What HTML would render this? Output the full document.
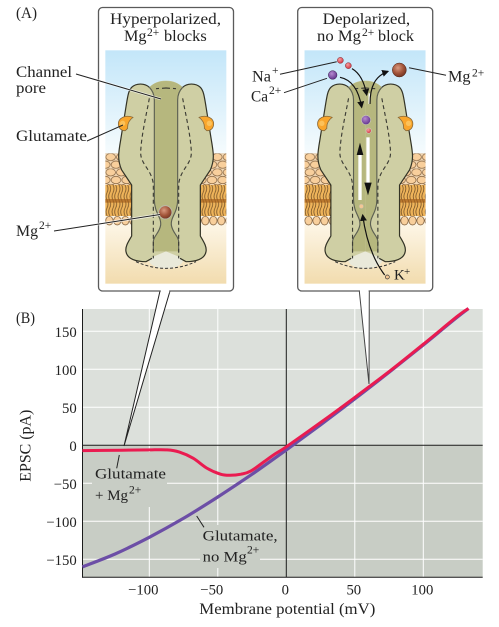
<!DOCTYPE html>
<html lang="en">
<head>
<meta charset="utf-8">
<title>NMDA receptor Mg2+ block</title>
<style>
html,body{margin:0;padding:0;background:#fff;width:499px;height:627px;overflow:hidden}
svg{display:block}
text{font-family:"Liberation Serif",serif;fill:#222}
</style>
</head>
<body>
<svg id="figure" xmlns="http://www.w3.org/2000/svg" width="499" height="627" viewBox="0 0 499 627">
<defs>
  <linearGradient id="panelBg" x1="0" y1="0" x2="0" y2="1">
    <stop offset="0" stop-color="#c3e6f9"/>
    <stop offset="0.44" stop-color="#f5fbfd"/>
    <stop offset="0.76" stop-color="#fcf4e3"/>
    <stop offset="1" stop-color="#f2dcae"/>
  </linearGradient>
  <pattern id="heads" patternUnits="userSpaceOnUse" width="32" height="46" x="46" y="460">
    <rect width="32" height="46" fill="#f3d9b6"/>
    <ellipse cx="16" cy="11" rx="14.5" ry="11" fill="#f8cf9c" stroke="#7b5a38" stroke-width="2"/>
    <ellipse cx="0" cy="34" rx="14.5" ry="11" fill="#f8cf9c" stroke="#7b5a38" stroke-width="2"/>
    <ellipse cx="32" cy="34" rx="14.5" ry="11" fill="#f8cf9c" stroke="#7b5a38" stroke-width="2"/>
  </pattern>
  <pattern id="headsLow" patternUnits="userSpaceOnUse" width="24" height="30" x="46" y="648">
    <rect width="24" height="30" fill="#fcf4e3"/>
    <ellipse cx="12" cy="14" rx="11" ry="13" fill="#f8cf9c" stroke="#7b5a38" stroke-width="2"/>
  </pattern>
  <pattern id="tails" patternUnits="userSpaceOnUse" width="18" height="46" x="46" y="555">
    <rect width="18" height="46" fill="#efb45a"/>
    <path d="M5,0 q6,11 0,23 q-6,11 0,23 M13,0 q6,11 0,23 q-6,11 0,23" fill="none" stroke="#6b4a24" stroke-width="2.2"/>
  </pattern>
  <g id="channel-half">
    <path d="M228,242 C205,242 190,250 178,262 C165,250 140,248 125,262 C115,272 113,290 108,320 L92,420 C85,460 82,480 95,510 L125,555 L125,708 C115,725 105,740 108,755 C112,778 140,785 168,785 L190,770 L228,754 Z" fill="#cfcfa4"/>
    <path d="M178,262 C165,250 140,248 125,262 C115,272 113,290 108,320 L92,420 C85,460 82,480 95,510 L125,555 L125,708 C115,725 105,740 108,755 C112,778 140,785 168,785 L186,775" fill="none" stroke="#333326" stroke-width="3.6"/>
    <path d="M228,243 C205,243 190,250 178,262 L193,290 L193,600 C194,640 214,650 212,675 C208,700 190,708 190,725 L190,754 L228,754 Z" fill="#b6b77e"/>
    <path d="M178,262 C188,272 193,285 193,300 L193,600 C194,640 214,650 212,675 C208,700 190,708 190,725 L190,756" fill="none" stroke="#5c5f52" stroke-width="3.4"/>
    <path d="M228,264 L198,266 M178,295 C170,340 155,400 152,455 C150,495 190,510 190,560 L190,775" fill="none" stroke="#3c3c34" stroke-width="3.4" stroke-dasharray="12 9"/>
    <path d="M129,352 C105,343 85,355 85,372 C85,385 95,393 106,392 L113,385 C112,372 118,360 129,352 Z" fill="#f9a62c" stroke="#8a6a3a" stroke-width="2.4"/>
    <circle cx="98" cy="370" r="8" fill="#fcc25a"/>
  </g>
  <g id="channel-art">
    <rect x="46" y="151" width="363" height="700" fill="url(#panelBg)"/>
    <rect x="46" y="460" width="80" height="95" fill="url(#heads)"/>
    <rect x="330" y="460" width="79" height="95" fill="url(#heads)"/>
    <rect x="46" y="555" width="80" height="93" fill="url(#tails)"/>
    <rect x="330" y="555" width="79" height="93" fill="url(#tails)"/>
    <rect x="46" y="597" width="80" height="11" fill="#a45f1c" opacity=".7"/>
    <rect x="330" y="597" width="79" height="11" fill="#a45f1c" opacity=".7"/>
    <rect x="46" y="648" width="80" height="29" fill="url(#headsLow)"/>
    <rect x="330" y="648" width="79" height="29" fill="url(#headsLow)"/>
    <ellipse cx="228" cy="778" rx="52" ry="28" fill="#e9e9da"/>
    <path d="M138,785 Q228,825 318,785" fill="none" stroke="#333" stroke-width="3" stroke-dasharray="9 6"/>
    <use href="#channel-half"/>
    <use href="#channel-half" transform="matrix(-1 0 0 1 456 0)"/>
  </g>
  <radialGradient id="mgBall" cx=".4" cy=".35" r=".7">
    <stop offset="0" stop-color="#d99a80"/><stop offset=".55" stop-color="#a3553a"/><stop offset="1" stop-color="#6d3220"/>
  </radialGradient>
  <radialGradient id="caBall" cx=".4" cy=".35" r=".7">
    <stop offset="0" stop-color="#b68ad0"/><stop offset="1" stop-color="#5c2e88"/>
  </radialGradient>
  <radialGradient id="naBall" cx=".4" cy=".35" r=".7">
    <stop offset="0" stop-color="#f4a0a0"/><stop offset="1" stop-color="#d22c3c"/>
  </radialGradient>
  <marker id="arrowHead" markerWidth="7" markerHeight="7" refX="5" refY="3" orient="auto" markerUnits="strokeWidth">
    <path d="M0,0 L6,3 L0,6 Z" fill="#111"/>
  </marker>
</defs>

<text x="16" y="18" font-size="15.5" textLength="21" lengthAdjust="spacingAndGlyphs">(A)</text>
<text x="16" y="323" font-size="15.5" textLength="19" lengthAdjust="spacingAndGlyphs">(B)</text>

<!-- Chart layer filled by script -->
<g id="chart"></g>

<!-- Callout wedges -->
<path d="M160,291 L124,446 L170,291 Z" fill="#fff" stroke="#222" stroke-width="1"/>
<path d="M359.3,291 L369,384 L369.3,291 Z" fill="#fff" stroke="#444" stroke-width="1"/>

<!-- Panels -->
<g>
  <rect x="98.5" y="7.5" width="135" height="283.5" rx="4" fill="#fff" stroke="#5a5a5a" stroke-width="1.3"/>
  <rect x="160.8" y="288" width="8.4" height="5" fill="#fff"/>
  <g transform="translate(90,0) scale(.33333)">
    <use href="#channel-art"/>
    <circle cx="226" cy="637" r="20" fill="url(#mgBall)" stroke="#b9b9a8" stroke-width="3"/>
  </g>
  <text x="110" y="24" font-size="15.5" textLength="111" lengthAdjust="spacingAndGlyphs">Hyperpolarized,</text>
  <text x="124" y="41" font-size="15.5" textLength="22.5" lengthAdjust="spacingAndGlyphs">Mg</text>
  <text x="147" y="36" font-size="11.5">2+</text>
  <text x="164" y="41" font-size="15.5" textLength="42.7" lengthAdjust="spacingAndGlyphs">blocks</text>
</g>

<g>
  <rect x="297.7" y="7.5" width="135" height="283.5" rx="4" fill="#fff" stroke="#5a5a5a" stroke-width="1.3"/>
  <rect x="360" y="288" width="8.6" height="5" fill="#fff"/>
  <g transform="translate(289.2,0) scale(.33333)">
    <use href="#channel-art"/>
  </g>
  <g transform="translate(290,0) scale(.33333)">
    <path d="M186,206 C210,220 224,250 230,285" fill="none" stroke="#111" stroke-width="3.5" marker-end="url(#arrowHead)"/>
    <path d="M150,232 C190,240 208,280 215,322" fill="none" stroke="#111" stroke-width="3.5" marker-end="url(#arrowHead)"/>
    <path d="M238,312 L238,280" stroke="#fff" stroke-width="5"/>
    <path d="M240,312 C240,260 255,228 294,214" fill="none" stroke="#111" stroke-width="3.5" marker-end="url(#arrowHead)"/>
    <circle cx="151" cy="181" r="9" fill="url(#naBall)" stroke="#7a2a30" stroke-width="1.5"/>
    <circle cx="175" cy="197" r="9" fill="url(#naBall)" stroke="#7a2a30" stroke-width="1.5"/>
    <circle cx="128" cy="225" r="13" fill="url(#caBall)" stroke="#3a2050" stroke-width="1.5"/>
    <circle cx="328" cy="210" r="21" fill="url(#mgBall)" stroke="#4d2518" stroke-width="1.5"/>
    <circle cx="228" cy="360" r="14" fill="url(#caBall)" stroke="#c9c9b8" stroke-width="2"/>
    <circle cx="236" cy="392" r="8" fill="url(#naBall)" stroke="#c9c9b8" stroke-width="2"/>
    <rect x="205" y="460" width="10" height="140" fill="#fff"/>
    <path d="M210,428 L200,465 L220,465 Z" fill="#111"/>
    <rect x="229" y="412" width="10" height="140" fill="#fff"/>
    <path d="M234,586 L223,548 L245,548 Z" fill="#111"/>
    <circle cx="214" cy="619" r="6.5" fill="#f3c795" stroke="#b9b9a8" stroke-width="1.6"/>
    <path d="M284,825 C250,780 228,720 218,645" fill="none" stroke="#111" stroke-width="3.5" marker-end="url(#arrowHead)"/>
    <circle cx="292" cy="831" r="6" fill="#f3c795" stroke="#333" stroke-width="2"/>
  </g>
  <text x="322.7" y="24" font-size="15.5" textLength="87.5" lengthAdjust="spacingAndGlyphs">Depolarized,</text>
  <text x="317" y="41" font-size="15.5" textLength="44" lengthAdjust="spacingAndGlyphs">no Mg</text>
  <text x="362" y="36" font-size="11.5">2+</text>
  <text x="378" y="41" font-size="15.5" textLength="36" lengthAdjust="spacingAndGlyphs">block</text>
  <text x="394" y="279.3" font-size="15">K</text>
  <text x="404" y="275" font-size="11">+</text>
</g>

<!-- Panel A labels and leaders -->
<g fill="none">
  <path d="M76,74 L161,99" stroke="#fff" stroke-width="2.4" opacity=".7"/>
  <path d="M76,74 L161,99" stroke="#222" stroke-width="1"/>
  <path d="M87,141 L123,125" stroke="#222" stroke-width="1"/>
  <path d="M54,231 L160,214.5" stroke="#fff" stroke-width="2.6" opacity=".75"/>
  <path d="M54,231 L160,214.5" stroke="#222" stroke-width="1"/>
  <path d="M280,74.3 L336.7,61.7" stroke="#222" stroke-width="1"/>
  <path d="M284,92.7 L327,78.3" stroke="#222" stroke-width="1"/>
  <path d="M409,67.7 L446,75.3" stroke="#222" stroke-width="1"/>
</g>
<text x="16" y="77" font-size="15.5" textLength="56" lengthAdjust="spacingAndGlyphs">Channel</text>
<text x="16" y="93" font-size="15.5" textLength="30" lengthAdjust="spacingAndGlyphs">pore</text>
<text x="16" y="141" font-size="15.5" textLength="71" lengthAdjust="spacingAndGlyphs">Glutamate</text>
<text x="16" y="236" font-size="15.5" textLength="22" lengthAdjust="spacingAndGlyphs">Mg</text>
<text x="39" y="229" font-size="11.5">2+</text>
<text x="252" y="81.7" font-size="15.5" textLength="19" lengthAdjust="spacingAndGlyphs">Na</text>
<text x="272" y="74" font-size="11.5">+</text>
<text x="251" y="101.7" font-size="15.5" textLength="17" lengthAdjust="spacingAndGlyphs">Ca</text>
<text x="269" y="94" font-size="11.5">2+</text>
<text x="448" y="81.7" font-size="15.5" textLength="22.5" lengthAdjust="spacingAndGlyphs">Mg</text>
<text x="472" y="76.5" font-size="11.5">2+</text>

<script>
var xTicks = [-100, -50, 0, 50, 100];
var yTicks = [-150, -100, -50, 0, 50, 100, 150];
var noMgVoltage = [-148.8, -125, -100, -75, -50, -25, 0, 25, 50, 75, 100, 125, 133];
var noMgCurrent = [-160, -143, -121, -96, -68, -38, -6, 27, 61, 96, 132, 169, 180];
var withMgVoltage = [-148.8, -120, -100, -87, -78, -68, -58, -48, -41, -33, -26, -15, -8, 0, 25, 50, 75, 100, 125, 133];
var withMgCurrent = [-7, -6.5, -6, -6, -9, -17, -30, -38, -39.5, -38, -34, -20, -11, -2, 30, 63, 97, 133, 170, 180];

var X0 = 286.3, XK = 1.37, Y0 = 445.3, YK = 0.76;
var L = 82.5, R = 482.7, T = 309, B = 577.3;
function xs(v) { return X0 + XK * v; }
function ys(v) { return Y0 - YK * v; }
var NS = 'http://www.w3.org/2000/svg';
var chart = document.getElementById('chart');
function mk(tag, attrs, parent) {
  var e = document.createElementNS(NS, tag);
  for (var k in attrs) e.setAttribute(k, attrs[k]);
  (parent || chart).appendChild(e);
  return e;
}
function smooth(vs, cs) {
  var p = vs.map(function (v, i) { return [xs(v), ys(cs[i])]; });
  var d = 'M' + p[0][0].toFixed(1) + ',' + p[0][1].toFixed(1);
  for (var i = 0; i < p.length - 1; i++) {
    var a = p[Math.max(i - 1, 0)], b = p[i], c = p[i + 1], e = p[Math.min(i + 2, p.length - 1)];
    d += ' C' + (b[0] + (c[0] - a[0]) / 6).toFixed(1) + ',' + (b[1] + (c[1] - a[1]) / 6).toFixed(1) +
         ' ' + (c[0] - (e[0] - b[0]) / 6).toFixed(1) + ',' + (c[1] - (e[1] - b[1]) / 6).toFixed(1) +
         ' ' + c[0].toFixed(1) + ',' + c[1].toFixed(1);
  }
  return d;
}

var upper = mk('rect', {x: L, y: T, width: R - L, height: ys(0) - T, fill: '#dce0db'});


var lower = mk('rect', {x: L, y: ys(0), width: R - L, height: B - ys(0), fill: '#c8cdc5'});



xTicks.forEach(function (t) {
  if (t !== 0) {
    var g = mk('line', {x1: xs(t), x2: xs(t), y1: T, y2: B, stroke: '#fff', 'stroke-width': 1});
    
    
  }
  var label = mk('text', {x: xs(t) - (t < 0 ? 6 : 1), y: 594.3, 'font-size': 14.7, 'text-anchor': 'middle'});
  label.textContent = String(t).replace('-', '\u2212');
  
  
});
yTicks.forEach(function (t) {
  if (t !== 0) {
    var g = mk('line', {x1: L, x2: R, y1: ys(t), y2: ys(t), stroke: '#fff', 'stroke-width': 1});
    
    
  }
  var label = mk('text', {x: 76.7, y: ys(t) + 5.5, 'font-size': 14.7, 'text-anchor': 'end'});
  label.textContent = String(t).replace('-', '\u2212');
  
  
});

var patchA = mk('rect', {x: 92, y: 452, width: 75, height: 55, fill: '#c8cdc5'});


var patchB = mk('rect', {x: 200, y: 525, width: 60, height: 43, fill: '#c8cdc5'});



var zeroH = mk('line', {x1: L, x2: R, y1: ys(0), y2: ys(0), stroke: '#1c1c1c', 'stroke-width': 1});


var zeroV = mk('line', {x1: xs(0), x2: xs(0), y1: T, y2: B, stroke: '#1c1c1c', 'stroke-width': 1});


var axisY = mk('line', {x1: L, x2: L, y1: T, y2: B + 0.5, stroke: '#1c1c1c', 'stroke-width': 1});


var axisX = mk('line', {x1: L, x2: R, y1: B, y2: B, stroke: '#1c1c1c', 'stroke-width': 1});



var curveNoMg = mk('path', {d: smooth(noMgVoltage, noMgCurrent), fill: 'none', stroke: '#6c4ea6', 'stroke-width': 3.2});


var curveMg = mk('path', {d: smooth(withMgVoltage, withMgCurrent), fill: 'none', stroke: '#ea1b50', 'stroke-width': 3});



var leadA = mk('line', {x1: 116.7, y1: 468.3, x2: 119.3, y2: 455, stroke: '#222', 'stroke-width': 1});


var leadB = mk('line', {x1: 196.7, y1: 516, x2: 204, y2: 527.3, stroke: '#222', 'stroke-width': 1});



var t1 = mk('text', {x: 95, y: 478.7, 'font-size': 15, textLength: 71, lengthAdjust: 'spacingAndGlyphs'});
t1.textContent = 'Glutamate';


var t2 = mk('text', {x: 95, y: 500, 'font-size': 15, textLength: 33, lengthAdjust: 'spacingAndGlyphs'});
t2.textContent = '+ Mg';


var t3 = mk('text', {x: 129, y: 493.5, 'font-size': 11.5});
t3.textContent = '2+';


var t4 = mk('text', {x: 202.7, y: 540.7, 'font-size': 15, textLength: 75, lengthAdjust: 'spacingAndGlyphs'});
t4.textContent = 'Glutamate,';


var t5 = mk('text', {x: 202.7, y: 561.7, 'font-size': 15, textLength: 44, lengthAdjust: 'spacingAndGlyphs'});
t5.textContent = 'no Mg';


var t6 = mk('text', {x: 247, y: 553.5, 'font-size': 11.5});
t6.textContent = '2+';



var xTitle = mk('text', {x: 199.3, y: 614, 'font-size': 15.5, textLength: 176, lengthAdjust: 'spacingAndGlyphs'});
xTitle.textContent = 'Membrane potential (mV)';


var yTitle = mk('text', {x: 30.7, y: 481.7, 'font-size': 15.5, textLength: 72, lengthAdjust: 'spacingAndGlyphs', transform: 'rotate(-90 30.7 481.7)'});
yTitle.textContent = 'EPSC (pA)';


</script>
</svg>
</body>
</html>
